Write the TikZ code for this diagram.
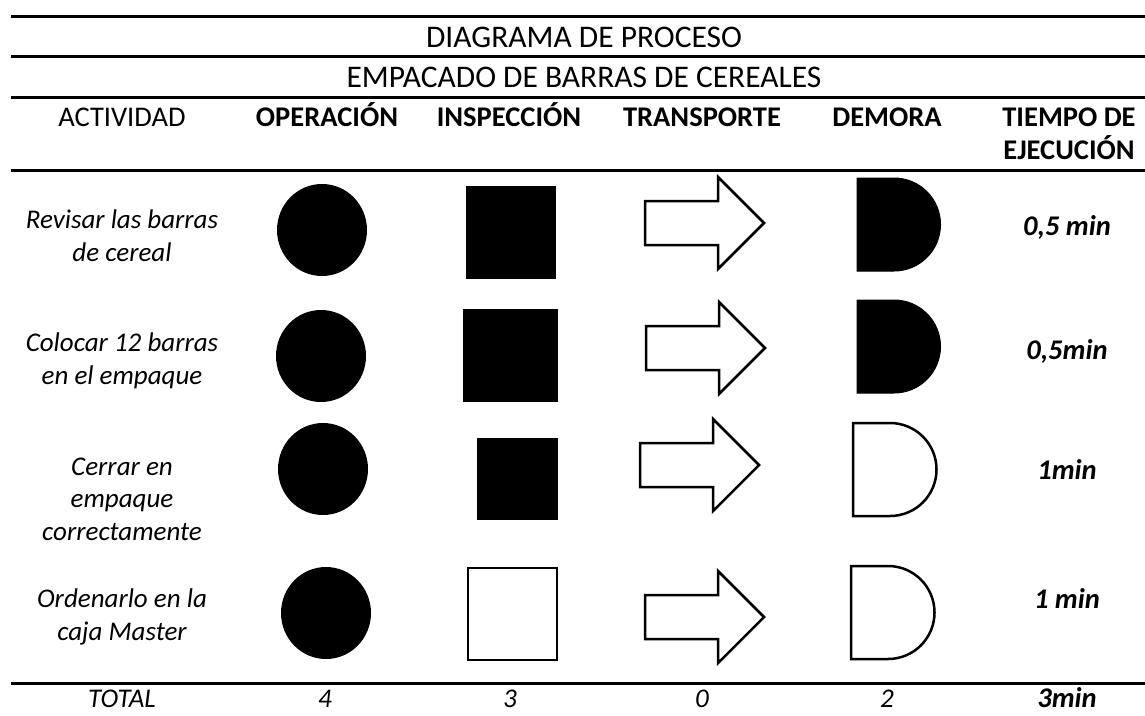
\documentclass[tikz,border=0pt]{standalone}
\usepackage{fontspec}
\setmainfont{Carlito}

\begin{document}
\begin{tikzpicture}
  [x=1pt,y=-1pt,
   every node/.style={inner sep=0pt,anchor=base,font=\fontsize{28.5}{33}\selectfont},
   titulo/.style={font=\fontsize{31.5}{36}\selectfont},
   cabeza/.style={font=\fontsize{28.5}{33}\selectfont\bfseries,align=center},
   actividad/.style={font=\fontsize{27}{32.5}\selectfont\itshape,align=center},
   tiempo/.style={font=\fontsize{28.5}{33}\selectfont\bfseries\itshape},
   regla/.style={line width=3pt},
   lleno/.style={fill=black,draw=black,line width=1pt},
   vacio/.style={fill=white,draw=black,line width=2.5pt}]
  \useasboundingbox (0,0) rectangle (1145,715);
  % lineas de la tabla
  \foreach \y in {16,56,97,170,683}
    \draw[regla] (11,\y) -- (1145,\y);
  % encabezado
  \node[titulo] (diagrama) at (584,47) {DIAGRAMA DE PROCESO};
  \node[titulo] (empacado) at (584,87) {EMPACADO DE BARRAS DE CEREALES};
  \node (act) at (122,126) {ACTIVIDAD};
  \node[cabeza] (ope) at (327,126) {OPERACIÓN};
  \node[cabeza] (ins) at (509,126) {INSPECCIÓN};
  \node[cabeza] (tra) at (702,126) {TRANSPORTE};
  \node[cabeza] (dem) at (887,126) {DEMORA};
  \node[cabeza] (tie) at (1069,159) {TIEMPO DE\\EJECUCIÓN};
  % actividades
  \node[actividad] (a1) at (122,261) {Revisar las barras\\de cereal};
  \node[actividad] (a2) at (122,384) {Colocar 12 barras\\en el empaque};
  \node[actividad] (a3) at (122,540) {Cerrar en\\empaque\\correctamente};
  \node[actividad] (a4) at (122,640) {Ordenarlo en la\\caja Master};
  % operacion
  \foreach \x/\y in {322/230,321/356,323/469,326/613}
    \fill (\x,\y) ellipse[x radius=45,y radius=46];
  % inspeccion
  \foreach \xa/\ya/\xb/\yb/\s in {466/186/555/278/lleno,463/309/557/401/lleno,477/438/557/519/lleno,468/568/557/660/vacio}
    \draw[\s] (\xa,\ya) rectangle (\xb,\yb);
  % transporte
  \foreach \x/\y in {645/223,646/348,640/465,645/617}
    \draw[vacio] (\x,\y-22) -- ++(73,0) -- ++(0,-24) -- (\x+119,\y)
      -- (\x+73,\y+46) -- ++(0,-24) -- (\x,\y+22) -- cycle;
  % demora
  \foreach \x/\y/\s in {857/178/lleno,857/300/lleno,853/423/vacio,851/566/vacio}
    \draw[\s] (\x,\y) -- ++(37,0) arc[start angle=-90,end angle=90,radius=46.5]
      -- (\x,\y+93) -- cycle;
  % tiempos
  \node[tiempo] (t1) at (1067,235) {0,5 min};
  \node[tiempo] (t2) at (1067,359) {0,5min};
  \node[tiempo] (t3) at (1067,479) {1min};
  \node[tiempo] (t4) at (1067,608) {1 min};
  % totales
  \node[actividad] (total) at (122,707) {TOTAL};
  \node[actividad] (nope) at (325,707) {4};
  \node[actividad] (nins) at (510,707) {3};
  \node[actividad] (ntra) at (702,707) {0};
  \node[actividad] (ndem) at (887,707) {2};
  \node[tiempo] (ttot) at (1067,707) {3min};
\end{tikzpicture}
\end{document}
